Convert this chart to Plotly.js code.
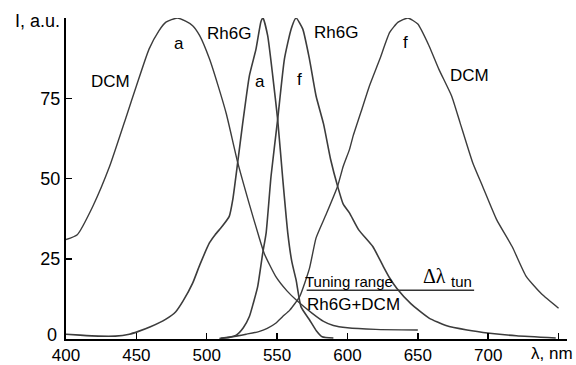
<!DOCTYPE html>
<html>
<head>
<meta charset="utf-8">
<script src="https://cdn.plot.ly/plotly-3.0.1.min.js"></script>
<style>html,body{margin:0;padding:0;background:#fff;}#chart{width:576px;height:365px;}</style>
</head>
<body>
<div id="chart"></div>
<script>
// DCM absorption
const dcmAbsX = [400,408,419,431,443,450,459,466,471,479,485,490,495,502,508,514,522,530,537,541,549,557,564,575,583,590,600,620,650];
const dcmAbsY = [31,32.5,41.3,53.8,69.5,78.8,90.3,96,98.7,100,99,97.6,94.5,87.2,79,70,55,42.4,32,26.5,19.5,15,12,8,5.5,4.2,3.5,3,2.8];
// Rh6G absorption
const rhAbsX = [400,410,423,435,445,451,460,471,478,483,490,495,502,506,511,516,518.5,522,525.5,530.3,535,538.6,540,543.3,546.9,550.4,554,557.6,560.5,563.5,567,573,578,582,590];
const rhAbsY = [1.5,1.2,0.9,0.9,1.5,2.3,3.8,6.2,8.5,11.7,17.4,23,30,32.5,35.1,38.2,43.4,55,67,82,90.3,99,100,94.5,82,68.4,50,33,24,18.4,10,6,2.5,0.7,0.3];
// Rh6G fluorescence
const rhFlX = [510,516,521,526,530.3,533,536.2,539.8,542.2,545.7,550.4,555.2,560,563.5,568.2,573,577.7,583,588,593,597,601.4,608,618,625,630,635,645,658,670,685,701,720,748];
const rhFlY = [0.2,0.5,1.2,3.5,7,11,16.3,26.8,33,50.7,68.4,87.2,96.6,100,96.6,87.2,75.7,67,56,47.6,42,39.3,34,28.8,23,19,15.8,11,6.5,4.2,2.8,1.8,1,0.3];
// DCM fluorescence
const dcmFlX = [509,518,528,537,543,549,554,559,566,573,577.7,585,593,597,601.4,604,611,615.6,623,630,636,643,650,658,665,674,680,689,696,706,717,727,738,750];
const dcmFlY = [0.2,0.7,1.5,2.3,3.3,4.9,7,9,13.2,22,31.5,39,47.6,53.8,59,63.2,72.6,78.8,87.2,95.5,98.7,100,98.1,91.3,84,75.7,67.4,54.9,47.6,37.2,28.8,19.5,14,9.6];

const xTickVals = [400,450,500,550,600,650,700,750];
const xTickText = ['400','450','500','550','600','650','700',''];
const yTickVals = [0,25,50,75,100];
const yTickText = ['','25','50','75',''];

const lineStyle = {color:'#3c3c3c', width:1.4, shape:'spline', smoothing:0.5};
const mk = (x,y,w) => ({x:x, y:y, mode:'lines', type:'scatter', line:Object.assign({}, lineStyle, w?{width:w}:{}), hoverinfo:'skip', showlegend:false});

const data = [mk(dcmAbsX,dcmAbsY), mk(rhAbsX,rhAbsY,1.6), mk(rhFlX,rhFlY,1.6), mk(dcmFlX,dcmFlY)];

const F = 'Liberation Sans, Arial, sans-serif';
const ann = (t,x,y,size,opts) => Object.assign({text:t, x:x, y:y, xref:'x', yref:'y', showarrow:false, font:{family:F, size:size, color:'#000'}, xanchor:'center', yanchor:'middle'}, opts||{});

const layout = {
  width:576, height:365,
  margin:{l:66, r:9, t:18, b:26},
  paper_bgcolor:'#fff', plot_bgcolor:'#fff',
  xaxis:{range:[400,756], tickvals:xTickVals, ticktext:xTickText, ticks:'inside', ticklen:6, tickwidth:1.5, tickcolor:'#000',
         showline:true, linecolor:'#000', linewidth:2, showgrid:false, zeroline:false,
         tickfont:{family:F, size:17, color:'#000'}},
  yaxis:{range:[0,100], tickvals:yTickVals, ticktext:yTickText, ticks:'inside', ticklen:6, tickwidth:1.5, tickcolor:'#000',
         showline:true, linecolor:'#000', linewidth:2, showgrid:false, zeroline:false,
         tickfont:{family:F, size:18, color:'#000'}},
  shapes:[{type:'line', xref:'x', yref:'y', x0:571, x1:690, y0:15.2, y1:15.2, line:{color:'#333', width:1.4}}],
  annotations:[
    ann('0', -0.014, 0, 18, {xref:'paper', xanchor:'right', yshift:4}),
    ann('I, a.u.', -0.008, 0.99, 18, {xref:'paper', yref:'paper', xanchor:'right'}),
    ann('λ, nm', 1.015, -0.046, 17, {xref:'paper', yref:'paper', xanchor:'right'}),
    ann('DCM', 431.3, 80.3, 17),
    ann('a', 480.3, 92.2, 17),
    ann('Rh6G', 515.8, 95.3, 17),
    ann('a', 537.9, 80.3, 17),
    ann('f', 565.6, 80.7, 17),
    ann('Rh6G', 591.9, 95.6, 17),
    ann('f', 640.9, 92.5, 17),
    ann('DCM', 686.4, 82.2, 17),
    ann('Tuning range', 568.4, 17.9, 15, {xanchor:'left'}),
    ann('Δλ', 661.5, 19.6, 20, {xanchor:'center', font:{family:'Liberation Serif, Times New Roman, serif', size:20, color:'#000'}}),
    ann('tun', 671.8, 17.8, 15, {xanchor:'left'}),
    ann('Rh6G+DCM', 569.9, 10.8, 17, {xanchor:'left'})
  ]
};

Plotly.newPlot('chart', data, layout, {staticPlot:true, displayModeBar:false});
</script>
</body>
</html>
